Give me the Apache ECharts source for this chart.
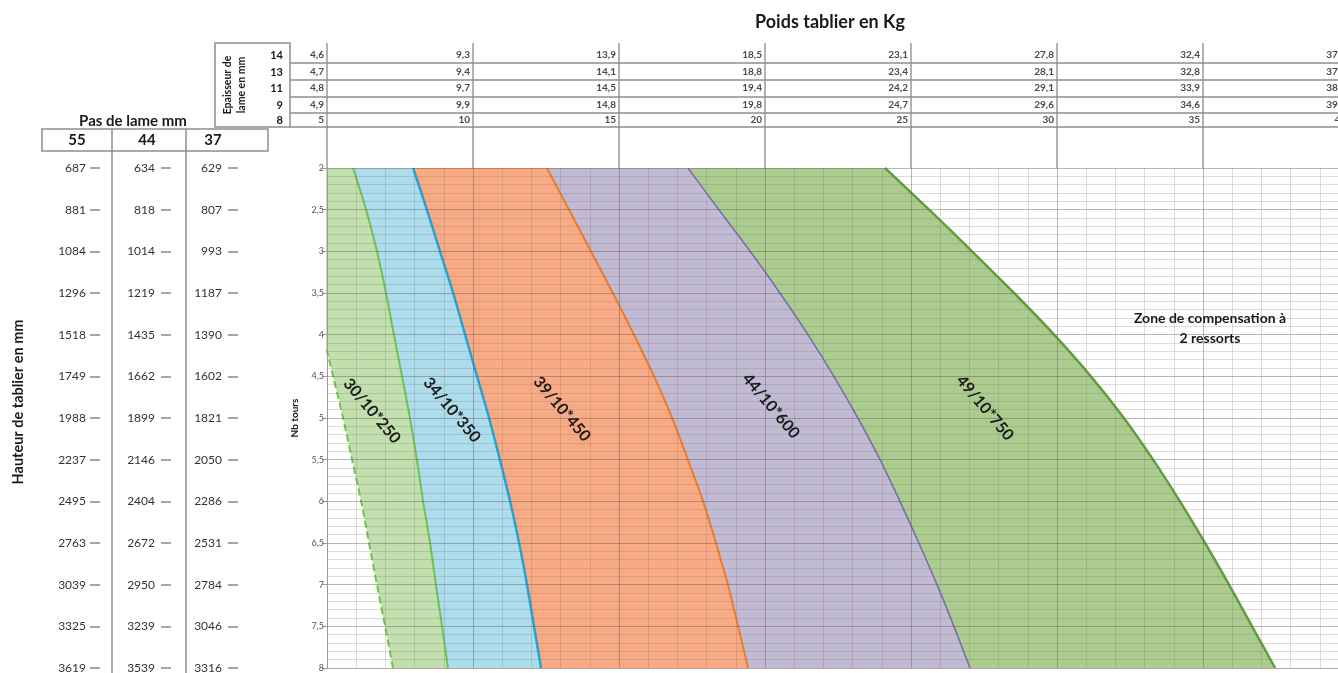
<!DOCTYPE html>
<html><head><meta charset="utf-8">
<script src="https://cdn.jsdelivr.net/npm/echarts@6/dist/echarts.min.js"></script>
<style>html,body{margin:0;padding:0;background:#fff}#c{width:1338px;height:673px}</style>
</head><body><div id="c"></div>
<script>
// ---------- data ----------
const tours = ['2','2,5','3','3,5','4','4,5','5','5,5','6','6,5','7','7,5','8'];
const hauteur55 = ['687','881','1084','1296','1518','1749','1988','2237','2495','2763','3039','3325','3619'];
const hauteur44 = ['634','818','1014','1219','1435','1662','1899','2146','2404','2672','2950','3239','3539'];
const hauteur37 = ['629','807','993','1187','1390','1602','1821','2050','2286','2531','2784','3046','3316'];
const pasDeLame = ['55','44','37'];
const epaisseurs = ['14','13','11','9','8'];
const poids14 = [4.6, 9.3, 13.9, 18.5, 23.1, 27.8, 32.4, 37.0];
const poids13 = [4.7, 9.4, 14.1, 18.8, 23.4, 28.1, 32.8, 37.5];
const poids11 = [4.8, 9.7, 14.5, 19.4, 24.2, 29.1, 33.9, 38.7];
const poids9  = [4.9, 9.9, 14.8, 19.8, 24.7, 29.6, 34.6, 39.5];
const poids8  = [5, 10, 15, 20, 25, 30, 35, 40];
// boundary curves: weight (kg) at each number of turns (2 .. 8)
const limiteBasse = [3.39, 3.77, 4.14, 4.52, 4.86, 5.21, 5.55, 5.86, 6.17, 6.44, 6.71, 6.99, 7.26];
const ressort250  = [5.89, 6.34, 6.71, 7.02, 7.29, 7.57, 7.84, 8.08, 8.29, 8.53, 8.73, 8.94, 9.14];
const ressort350  = [7.95, 8.42, 8.87, 9.32, 9.73, 10.14, 10.55, 10.92, 11.27, 11.58, 11.85, 12.09, 12.33];
const ressort450  = [12.53, 13.29, 14.04, 14.79, 15.51, 16.2, 16.82, 17.36, 17.88, 18.32, 18.73, 19.08, 19.42];
const ressort600  = [17.36, 18.42, 19.49, 20.51, 21.47, 22.36, 23.18, 23.94, 24.62, 25.27, 25.89, 26.47, 27.02];
const ressort750  = [24.11, 25.62, 27.09, 28.53, 29.9, 31.16, 32.29, 33.29, 34.21, 35.07, 35.89, 36.68, 37.47];
const bandNames = ['30/10*250','34/10*350','39/10*450','44/10*600','49/10*750'];

// ---------- styling ----------
const FONT = 'Lato';
const bandFill = ['#c2dfae','#addcec','#f7aa83','#c1bad3','#aacd8f'];
const bandLine = ['#72c24e','#1ca6d9','#f57a22','#7d6bb4','#5f9f3c'];
const bandLineW = [2, 2.5, 2, 1.6, 2.5];
const MAJ = 'rgba(110,90,90,0.45)';
const MIN = 'rgba(130,110,110,0.25)';

const chart = echarts.init(document.getElementById('c'));

const fmt = (v, dec) => dec ? v.toFixed(1).replace('.', ',') : String(v);
const tableRows = [
  {vals: poids14, dec: 1, off: 113},
  {vals: poids13, dec: 1, off: 96},
  {vals: poids11, dec: 1, off: 80},
  {vals: poids9,  dec: 1, off: 63},
  {vals: poids8,  dec: 0, off: 48}
];

const xAxes = [
  {type:'value', gridIndex:0, min:5, max:40, interval:5, position:'bottom', z:10,
   axisLine:{show:true, lineStyle:{color:'#b4a8a8'}}, axisTick:{show:false}, axisLabel:{show:false},
   splitLine:{show:true, lineStyle:{color:MAJ, width:1}},
   minorTick:{show:false, splitNumber:5}, minorSplitLine:{show:true, lineStyle:{color:MIN, width:1}}},
  {type:'value', gridIndex:0, min:5, max:40, interval:5, position:'top', offset:0,
   axisLine:{show:false}, axisTick:{show:true, length:125, lineStyle:{color:'#9a9a9a', width:1.5}},
   axisLabel:{show:false}, splitLine:{show:false}}
].concat(tableRows.map(r => ({
  type:'value', gridIndex:0, min:5, max:40, interval:5, position:'top', offset:r.off,
  axisLine:{show:false}, axisTick:{show:false}, splitLine:{show:false},
  axisLabel:{show:true, margin:0, verticalAlign:'middle', align:'right', padding:[0,3,0,0],
    fontSize:10, fontWeight:'bold', color:'#4a4a4a', fontFamily:FONT,
    formatter: v => fmt(r.vals[Math.round((v - 5) / 5)], r.dec)}
})));

const heightAxis = (data, axisX, margin) => ({
  type:'category', gridIndex:0, data:data, inverse:true, boundaryGap:false, position:'left',
  offset: 327 - axisX, axisLine:{show:false},
  axisTick:{show:true, inside:true, length:10, alignWithLabel:true, lineStyle:{color:'#8a8a8a', width:1.5}},
  axisLabel:{show:true, interval:0, margin:margin, fontSize:12, color:'#333', fontFamily:FONT},
  splitLine:{show:false}
});

const yAxes = [
  {type:'category', gridIndex:0, data:tours, inverse:true, boundaryGap:false, position:'left', z:11,
   axisLine:{show:true, lineStyle:{color:'#9a9a9a'}},
   axisTick:{show:true, length:5, lineStyle:{color:'#9a9a9a'}},
   axisLabel:{show:true, interval:0, margin:3, fontSize:9, color:'#555', fontFamily:FONT},
   splitLine:{show:false},
   name:'Nb tours', nameLocation:'middle', nameGap:27, nameRotate:90,
   nameTextStyle:{fontSize:10, fontWeight:'bold', color:'#222', fontFamily:FONT}},
  {type:'value', gridIndex:0, min:2, max:8, interval:0.5, inverse:true, position:'right', z:10,
   axisLine:{show:false}, axisTick:{show:false}, axisLabel:{show:false},
   splitLine:{show:true, lineStyle:{color:MAJ, width:1}},
   minorTick:{show:false, splitNumber:5}, minorSplitLine:{show:true, lineStyle:{color:MIN, width:1}}},
  heightAxis(hauteur55, 90, 4),
  heightAxis(hauteur44, 161, 6),
  heightAxis(hauteur37, 228, 6)
];

const bounds = [limiteBasse, ressort250, ressort350, ressort450, ressort600, ressort750];
const series = [{
  type:'line', name:'limite', stack:'z', xAxisIndex:0, yAxisIndex:0, data:limiteBasse, z:1,
  symbol:'none', smooth:0.3, clip:true, silent:true,
  lineStyle:{color:bandLine[0], width:2, type:[7,4]}
}];
for (let i = 1; i < bounds.length; i++) {
  series.push({
    type:'line', name:bandNames[i-1], stack:'z', xAxisIndex:0, yAxisIndex:0, z:1,
    data: bounds[i].map((v, k) => +(v - bounds[i-1][k]).toFixed(3)),
    symbol:'none', smooth:0.3, clip:true, silent:true,
    lineStyle:{color:bandLine[i-1], width:bandLineW[i-1]},
    areaStyle:{color:bandFill[i-1], opacity:1}
  });
}

const txt = (x, y, text, o) => Object.assign({type:'text', x:x, y:y, z:50,
  style:Object.assign({text:text, fill:'#1a1a1a', fontFamily:FONT, fontWeight:'bold', fontSize:14,
    align:'center', verticalAlign:'middle'}, o && o.style)}, o && o.props);
const ln = (x1, y1, x2, y2, c, w) => ({type:'line', z:40, shape:{x1:x1, y1:y1, x2:x2, y2:y2},
  style:{stroke:c || '#8e8e8e', lineWidth:w || 1.5}});

const rowY = [55, 72, 88, 105, 120];
const graphics = [
  txt(830, 22, 'Poids tablier en Kg', {style:{fontSize:18}}),
  // top table frame
  {type:'rect', z:40, shape:{x:215, y:43, width:75, height:84}, style:{fill:'none', stroke:'#8e8e8e', lineWidth:1.5}},
  ln(290, 63, 1338, 63), ln(290, 80, 1338, 80), ln(290, 97, 1338, 97), ln(290, 113, 1338, 113), ln(290, 127, 1338, 127),
  txt(228, 85, 'Epaisseur de', {style:{fontSize:10.5}, props:{rotation:Math.PI/2}}),
  txt(242, 85, 'lame en mm', {style:{fontSize:10.5}, props:{rotation:Math.PI/2}}),
  // left table
  txt(133, 121, 'Pas de lame mm', {style:{fontSize:15}}),
  {type:'rect', z:40, shape:{x:42, y:129, width:226, height:22}, style:{fill:'none', stroke:'#8e8e8e', lineWidth:1.5}},
  ln(112, 129, 112, 673), ln(186, 129, 186, 673),
  txt(77, 140, pasDeLame[0], {style:{fontSize:15}}),
  txt(147, 140, pasDeLame[1], {style:{fontSize:15}}),
  txt(213, 140, pasDeLame[2], {style:{fontSize:15}}),
  txt(18, 402, 'Hauteur de tablier en mm', {style:{fontSize:14.5}, props:{rotation:Math.PI/2}}),
  // annotations
  txt(1210, 328, 'Zone de compensation à\n2 ressorts', {style:{fontSize:14, lineHeight:20}})
];
epaisseurs.forEach((e, i) => graphics.push(txt(283, rowY[i], e, {style:{fontSize:11, align:'right'}})));
const labelPos = [[372, 411], [452, 410], [562, 409], [771, 406], [985, 408]];
bandNames.forEach((n, i) => graphics.push(
  txt(labelPos[i][0], labelPos[i][1], n, {style:{fontSize:16}, props:{rotation:-50 * Math.PI / 180}})));

chart.setOption({
  animation:false,
  backgroundColor:'#fff',
  grid:{left:327, top:168, width:1022, height:500, containLabel:false, outerBoundsMode:'none'},
  xAxis:xAxes,
  yAxis:yAxes,
  series:series,
  graphic:graphics
});
</script>
</body></html>
